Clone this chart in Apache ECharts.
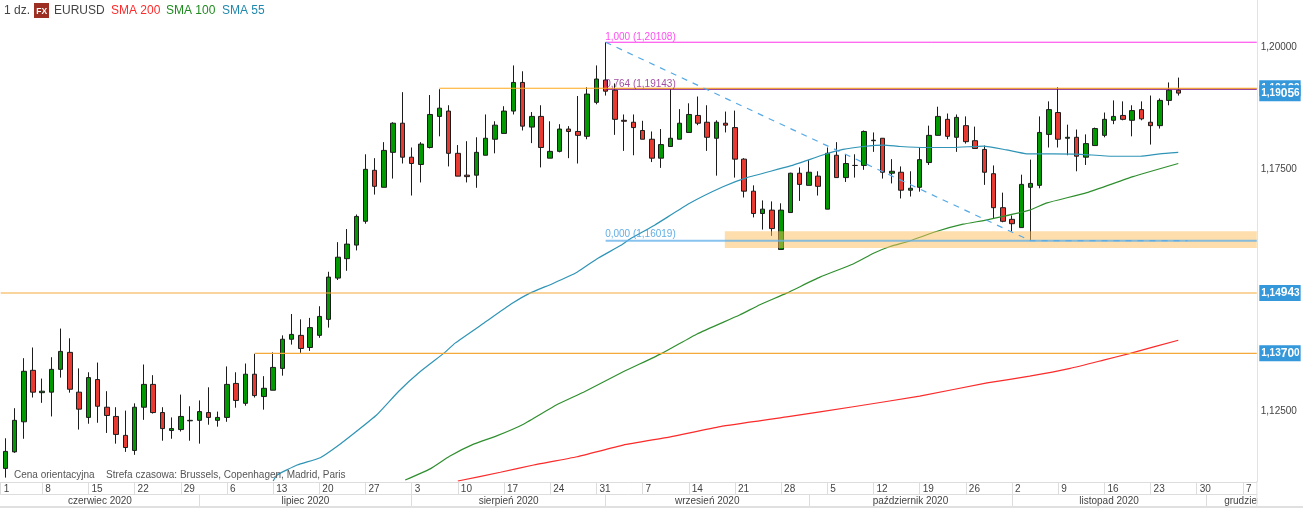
<!DOCTYPE html>
<html>
<head>
<meta charset="utf-8">
<style>html,body{margin:0;padding:0;background:#fff}#c{width:1303px;height:508px}</style>
<script src="https://cdn.jsdelivr.net/npm/echarts@6/dist/echarts.min.js"></script>
</head>
<body>
<div id="c"></div>
<script>
// prices in units of 0.0001
const opens=[11133,11167,11229,11335,11289,11290,11337,11372,11290,11238,11316,11259,11240,11201,11170,11259,11306,11248,11211,11213,11231,11232,11248,11232,11238,11308,11267,11327,11281,11294,11339,11399,11407,11382,11407,11440,11525,11565,11593,11642,11747,11712,11784,11844,11774,11759,11794,11858,11869,11782,11737,11737,11778,11811,11823,11869,11928,11836,11858,11772,11786,11832,11827,11817,11887,11933,11912,11850,11846,11829,11811,11772,11796,11811,11825,11860,11846,11813,11844,11835,11770,11704,11658,11665,11584,11660,11741,11716,11735,11667,11778,11732,11757,11757,11809,11813,11741,11743,11706,11712,11763,11819,11852,11815,11839,11808,11790,11740,11670,11646,11629,11712,11716,11821,11866,11813,11815,11774,11798,11819,11850,11860,11850,11872,11846,11839,11891,11912];
const closes=[11168,11232,11333,11290,11292,11337,11374,11296,11255,11320,11261,11242,11203,11176,11259,11306,11248,11215,11215,11240,11232,11250,11238,11238,11306,11273,11327,11283,11298,11341,11399,11409,11380,11423,11446,11527,11568,11595,11652,11749,11714,11788,11844,11774,11761,11801,11862,11875,11782,11735,11734,11784,11813,11840,11869,11928,11838,11858,11794,11786,11832,11827,11819,11904,11935,11910,11852,11848,11835,11811,11772,11800,11813,11844,11862,11844,11815,11846,11840,11770,11704,11658,11667,11627,11665,11741,11718,11743,11714,11782,11732,11761,11757,11827,11808,11743,11745,11706,11710,11769,11819,11858,11817,11856,11806,11792,11743,11670,11642,11637,11718,11720,11825,11872,11811,11815,11776,11802,11833,11852,11858,11852,11870,11853,11839,11891,11912,11906];
const lows=[11114,11165,11194,11279,11268,11240,11320,11289,11213,11225,11227,11206,11184,11167,11161,11233,11246,11190,11194,11209,11190,11184,11223,11219,11229,11258,11262,11279,11254,11294,11324,11388,11371,11375,11402,11423,11521,11540,11582,11637,11697,11712,11730,11761,11695,11722,11792,11817,11755,11735,11722,11711,11778,11782,11823,11862,11829,11803,11753,11772,11784,11772,11761,11811,11883,11901,11820,11787,11778,11811,11764,11752,11796,11811,11825,11840,11787,11736,11825,11732,11691,11650,11625,11612,11584,11660,11684,11716,11695,11667,11732,11723,11732,11748,11785,11730,11720,11689,11693,11703,11758,11819,11811,11785,11802,11792,11717,11648,11640,11621,11629,11602,11710,11794,11794,11778,11745,11758,11798,11815,11842,11850,11817,11850,11800,11833,11881,11901];
const highs=[11195,11257,11360,11382,11318,11362,11421,11401,11339,11331,11351,11292,11259,11252,11267,11347,11325,11259,11238,11285,11261,11273,11300,11250,11343,11331,11349,11369,11323,11372,11407,11451,11440,11443,11467,11538,11599,11626,11656,11780,11772,11805,11846,11908,11794,11805,11902,11914,11881,11799,11807,11815,11862,11848,11879,11963,11951,11867,11881,11848,11842,11838,11900,11918,11963,12011,11926,11862,11862,11849,11827,11832,11914,11873,11885,11899,11881,11850,11868,11870,11772,11716,11685,11683,11679,11742,11753,11768,11745,11794,11805,11780,11780,11829,11825,11813,11770,11755,11745,11794,11839,11878,11864,11862,11858,11837,11798,11757,11701,11654,11738,11769,11858,11889,11918,11841,11831,11821,11835,11866,11891,11889,11881,11889,11901,11895,11928,11938];

const sma55=[[29,11107],[29.4,11119],[31.6,11140],[34.1,11155],[35.9,11178],[38,11209],[40.2,11243],[42.6,11292],[44.9,11332],[47.6,11372],[48.7,11391],[51.8,11432],[54.8,11472],[56.8,11494],[59.3,11514],[61.9,11537],[64,11564],[66.6,11592],[67.6,11605],[70.3,11634],[74.1,11679],[77.7,11713],[80.3,11732],[85,11756],[88.6,11779],[90.7,11790],[92.9,11796],[95.1,11799],[96.9,11796],[99.8,11794],[102.6,11794],[105.9,11797],[108.4,11789],[110.6,11781],[113.4,11781],[116.4,11780],[119.9,11776],[122.9,11776],[125,11781],[127,11784]];
const sma100=[[43.3,11109],[46,11132],[48.1,11158],[50.7,11183],[53.2,11200],[56.1,11224],[59.7,11264],[62.6,11290],[66.9,11332],[71.2,11371],[74.9,11410],[79.5,11449],[81.7,11470],[84.6,11494],[88.2,11527],[91.8,11554],[94,11576],[95.8,11590],[98,11602],[100.8,11621],[103.7,11636],[106.3,11645],[110.9,11665],[112.8,11680],[117.1,11701],[122.1,11734],[127,11761]];
const sma200=[[49,11107],[53.6,11125],[57.2,11140],[61.9,11157],[66.9,11181],[72,11198],[77.4,11219],[84.6,11239],[91.8,11260],[99,11282],[106.3,11309],[110.9,11323],[115.3,11339],[118.9,11356],[121.8,11370],[127,11397]];

const fibHigh=1.20108, fibMid=1.19143, fibLow=1.16019;
const fibStart=65, fibTurn=111, fibEnd=128, axisEnd=135.5;
const level1=1.1916, level2=1.14943, level3=1.137, lastPrice=1.19056;
const level1Start=47, level2Start=-0.5, level3Start=27;
const zoneStart=77.9, zoneTop=1.16214, zoneBottom=1.1587;

const yTicks=[1.125,1.175,1.2];
const dayTicks=[-0.5,4,9,14,19,24,29,34,39,44,49,54,59,64,69,74,79,84,89,94,99,104,109,114,119,124,129,134];
const dayLabels=['1','8','15','22','29','6','13','20','27','3','10','17','24','31','7','14','21','28','5','12','19','26','2','9','16','23','30','7'];
const monthTicks=[21,44,65,87,109,130];
const monthLabelAt=[10.25,32.5,54.5,76,98,119.5,135.4];
const monthLabels=['czerwiec 2020','lipiec 2020','sierpień 2020','wrzesień 2020','październik 2020','listopad 2020','grudzień 2020'];

const BAND_COUNT=136;
const yMin=1.1106, yMax=1.20978;
const FONT='"Liberation Sans", Arial, sans-serif';
const OV={xAxisIndex:1,yAxisIndex:1};
const price=v=>v/1e4;
const cats=Array.from({length:BAND_COUNT},(_,i)=>String(i));
const candles=opens.map((o,i)=>[price(o),price(closes[i]),price(lows[i]),price(highs[i])]);
const pts=a=>a.map(p=>[p[0],price(p[1])]);

function hline(start,v,color,width,z,extra){
  return Object.assign({type:'line',...OV,data:[[start,v],[axisEnd,v]],showSymbol:false,symbol:'none',
    lineStyle:{color,width},z,silent:true},extra||{});
}
function tag(txt){
  const a=txt.slice(0,4),b=txt.slice(4,6),c=txt.slice(6);
  return {show:true,formatter:`{a|${a}}{b|${b}}{a|${c}}`,backgroundColor:'#3498db',padding:[1,1,1,2],distance:2.5,
    rich:{a:{color:'#fff',fontFamily:FONT,fontSize:10,fontWeight:'bold',lineHeight:14},
          b:{color:'#fff',fontFamily:FONT,fontSize:12,fontWeight:'bold',lineHeight:14}}};
}
function smaSeries(d,color){
  return {type:'line',...OV,data:pts(d),showSymbol:false,symbol:'none',smooth:0.15,lineStyle:{color,width:1.2},z:3,silent:true};
}
function fibLabel(x,v,txt,color,dy){
  return {type:'scatter',...OV,data:[[x,v]],symbolSize:1,itemStyle:{color:'transparent'},z:6,silent:true,
    label:{show:true,position:[0,dy],formatter:txt,color,fontFamily:FONT,fontSize:10}};
}

const chart=echarts.init(document.getElementById('c'),null,{renderer:'canvas'});
chart.setOption({
  animation:false,backgroundColor:'#fff',
  grid:[
    {left:0.68,top:0,width:1256.1,height:481.5},
    {left:0.68,top:481.5,width:1256.1,height:0.5},
    {left:0.68,top:494,width:1256.1,height:0.5}
  ],
  xAxis:[
    {type:'category',gridIndex:0,data:cats,boundaryGap:true,axisLabel:{show:false},axisTick:{show:false},axisLine:{show:false},splitLine:{show:false}},
    {type:'value',gridIndex:0,min:-0.5,max:axisEnd,show:false,splitLine:{show:false}},
    {type:'value',gridIndex:1,min:-0.5,max:axisEnd,position:'bottom',splitLine:{show:false},
      axisLine:{show:true,lineStyle:{color:'#dddddd',width:1}},
      axisTick:{show:true,customValues:dayTicks,length:12.5,lineStyle:{color:'#dddddd',width:1}},
      axisLabel:{show:true,customValues:dayTicks,margin:2,align:'left',padding:[0,0,0,3],color:'#444',fontFamily:FONT,fontSize:10,
        formatter:v=>dayLabels[dayTicks.indexOf(v)]||''}},
    {type:'value',gridIndex:2,min:-0.5,max:axisEnd,position:'bottom',splitLine:{show:false},
      axisLine:{show:true,lineStyle:{color:'#dddddd',width:1}},
      axisTick:{show:true,customValues:monthTicks,length:12,lineStyle:{color:'#dddddd',width:1}},
      axisLabel:{show:true,customValues:monthLabelAt,margin:2,align:'center',color:'#444',fontFamily:FONT,fontSize:10,
        formatter:v=>monthLabels[monthLabelAt.indexOf(v)]||''}}
  ],
  yAxis:[
    {type:'value',gridIndex:0,position:'right',min:yMin,max:yMax,splitLine:{show:false},
      axisLine:{show:true,onZero:false,lineStyle:{color:'#e2e2e2',width:1}},axisTick:{show:false},
      axisLabel:{customValues:yTicks,margin:4,color:'#444',fontFamily:FONT,fontSize:10,
        formatter:v=>v.toFixed(5).replace('.',',')}},
    {type:'value',gridIndex:0,position:'right',min:yMin,max:yMax,show:false,splitLine:{show:false}},
    {type:'value',gridIndex:1,min:0,max:1,show:false},
    {type:'value',gridIndex:2,min:0,max:1,show:false}
  ],
  series:[
    {type:'candlestick',data:candles,barWidth:5,z:2,silent:true,
      itemStyle:{color:'#009a00',color0:'#e83a30',borderColor:'#1c1c1c',borderColor0:'#1c1c1c',borderWidth:1}},
    smaSeries(sma200,'#ff2a2a'),
    smaSeries(sma100,'#2f8f2f'),
    smaSeries(sma55,'#2f94b6'),
    {type:'custom',...OV,z:4,silent:true,data:[[zoneStart,zoneTop,axisEnd,zoneBottom]],
      encode:{x:[0,2],y:[1,3]},
      renderItem:(p,api)=>{
        const a=api.coord([api.value(0),api.value(1)]),b=api.coord([api.value(2),api.value(3)]);
        return {type:'rect',shape:{x:a[0],y:a[1],width:b[0]-a[0],height:b[1]-a[1]},style:{fill:'rgba(251,190,90,0.5)'}};
      }},
    hline(level2Start,level2,'#f4a93a',1.1,5,{endLabel:tag('1,14943')}),
    hline(level3Start,level3,'#f4a93a',1.1,5,{endLabel:tag('1,13700')}),
    hline(fibStart,fibHigh,'#ff33ee',1,5),
    hline(fibStart,fibMid,'#7a0a7a',1.2,5),
    hline(level1Start,level1,'#ffa81a',1.2,6,{endLabel:tag('1,19162')}),
    hline(fibStart,fibLow,'rgba(95,175,232,0.75)',2,5),
    {type:'line',...OV,data:[[fibStart,fibHigh],[fibTurn,fibLow],[fibEnd,fibLow]],showSymbol:false,symbol:'none',
      lineStyle:{color:'#55a9e6',width:1.2,type:[6,6]},z:6,silent:true},
    fibLabel(fibStart,fibHigh,'1,000 (1,20108)','#ff22ee',-9),
    fibLabel(fibStart,fibMid,'0,764 (1,19143)','#8a1f8a',-9.5),
    fibLabel(fibStart,fibLow,'0,000 (1,16019)','#3a9ade',-11),
    {type:'line',...OV,z:8,silent:true,data:[[fibEnd,lastPrice],[axisEnd,lastPrice]],showSymbol:false,symbol:'none',
      lineStyle:{opacity:0},endLabel:tag('1,19056')}
  ],
  graphic:{elements:[
    {type:'rect',z:50,shape:{x:1257.4,y:482,width:46,height:24},style:{fill:'#fff'}},
    {type:'rect',z:51,shape:{x:0,y:506,width:1303,height:2},style:{fill:'#e0e0e0'}},
    {type:'rect',z:51,shape:{x:1256.4,y:481,width:1,height:26},style:{fill:'#e2e2e2'}},
    {type:'text',z:52,x:4,y:5,style:{text:'1 dz.',fill:'#444',font:'12px '+FONT}},
    {type:'rect',z:52,shape:{x:34,y:3,width:15,height:15},style:{fill:'#9c2f22'}},
    {type:'text',z:53,x:36.2,y:7,style:{text:'FX',fill:'#fff',font:'bold 8.5px '+FONT}},
    {type:'text',z:52,x:54,y:5,style:{text:'EURUSD',fill:'#444',font:'12px '+FONT}},
    {type:'text',z:52,x:111,y:5,style:{text:'SMA 200',fill:'#ff2a2a',font:'12px '+FONT}},
    {type:'text',z:52,x:166,y:5,style:{text:'SMA 100',fill:'#1f8a1f',font:'12px '+FONT}},
    {type:'text',z:52,x:222,y:5,style:{text:'SMA 55',fill:'#2088ad',font:'12px '+FONT}},
    {type:'text',z:52,x:14,y:470,style:{text:'Cena orientacyjna',fill:'#555',font:'10px '+FONT}},
    {type:'text',z:52,x:106,y:470,style:{text:'Strefa czasowa: Brussels, Copenhagen, Madrid, Paris',fill:'#555',font:'10px '+FONT}}
  ]}
});
</script>
</body>
</html>
